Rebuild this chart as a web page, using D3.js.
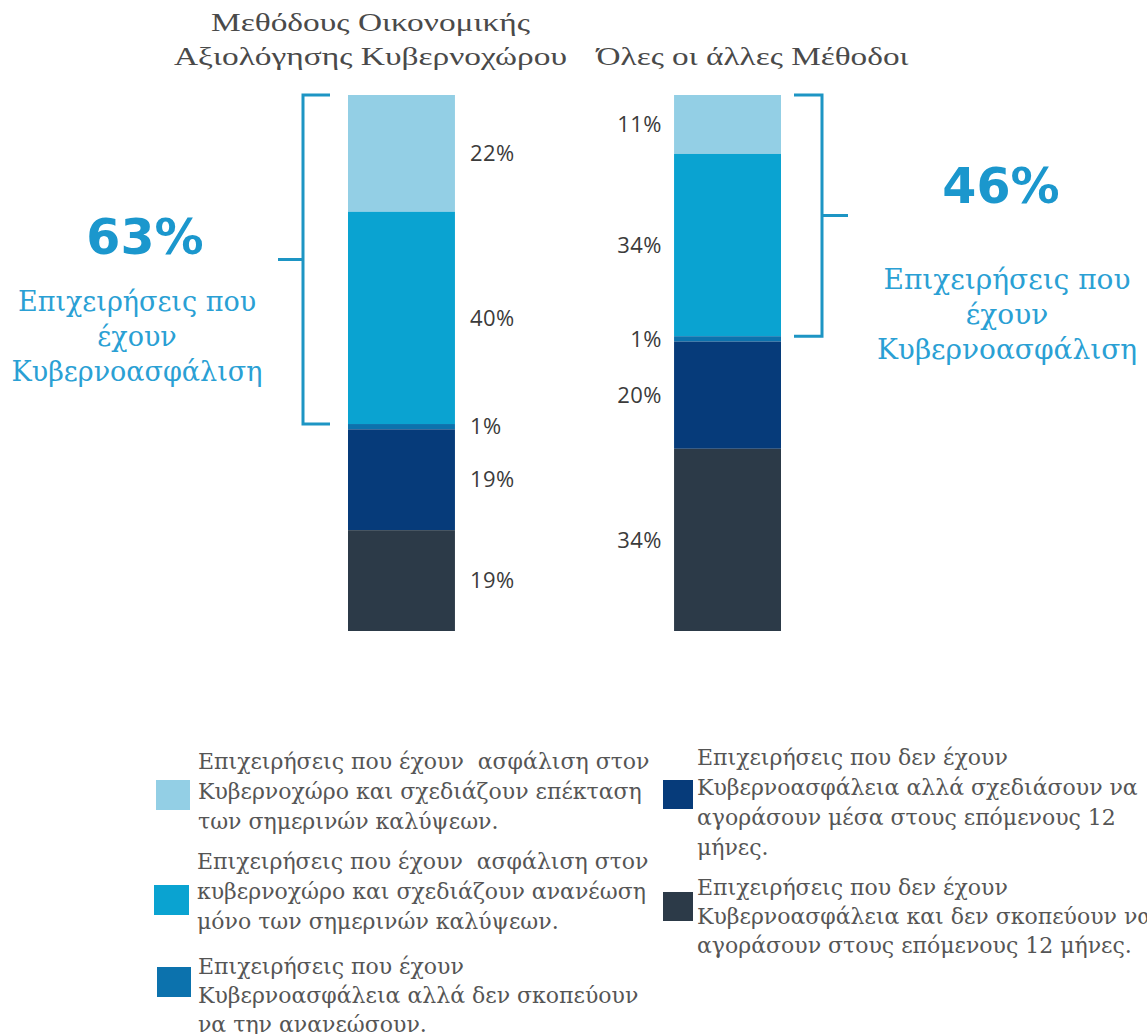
<!DOCTYPE html>
<html>
<head>
<meta charset="utf-8">
<script src="https://cdn.jsdelivr.net/npm/d3@7"></script>
<style>
  body { margin: 0; background: #fff; }
  svg { display: block; }
</style>
</head>
<body>
<svg id="chart" width="1147" height="1034"></svg>
<script>
// Groups (one stacked bar each) and their column headings
const groups = ["cyber", "other"];
const groupTitles = [
  ["Μεθόδους Οικονομικής", "Αξιολόγησης Κυβερνοχώρου"],
  ["Όλες οι άλλες Μέθοδοι"]
];

// Series, stacked top to bottom
const seriesKeys = ["expand", "renew", "noRenew", "planBuy", "noPlan"];
const expandValues  = [22, 11];
const renewValues   = [40, 34];
const noRenewValues = [1, 1];
const planBuyValues = [19, 20];
const noPlanValues  = [19, 34];

// Share of businesses that hold cyber insurance (bracketed part)
const insuredTotals = [63, 46];
const insuredCaption = ["Επιχειρήσεις που", "έχουν", "Κυβερνοασφάλιση"];

const seriesColors = ["#93cfe5", "#0aa3d1", "#0c72ad", "#063b7a", "#2c3a48"];

const legendLabels = [
  ["Επιχειρήσεις που έχουν  ασφάλιση στον", "Κυβερνοχώρο και σχεδιάζουν επέκταση", "των σημερινών καλύψεων."],
  ["Επιχειρήσεις που έχουν  ασφάλιση στον", "κυβερνοχώρο και σχεδιάζουν ανανέωση", "μόνο των σημερινών καλύψεων."],
  ["Επιχειρήσεις που έχουν", "Κυβερνοασφάλεια αλλά δεν σκοπεύουν", "να την ανανεώσουν."],
  ["Επιχειρήσεις που δεν έχουν", "Κυβερνοασφάλεια αλλά σχεδιάσουν να", "αγοράσουν μέσα στους επόμενους 12", "μήνες."],
  ["Επιχειρήσεις που δεν έχουν", "Κυβερνοασφάλεια και δεν σκοπεύουν να", "αγοράσουν στους επόμενους 12 μήνες."]
];

// ---- build table ----
const seriesValues = [expandValues, renewValues, noRenewValues, planBuyValues, noPlanValues];
const rows = groups.map((g, i) => {
  const r = { group: g };
  seriesKeys.forEach((k, s) => { r[k] = seriesValues[s][i]; });
  return r;
});

const svg = d3.select("#chart");

const x = d3.scaleBand().domain(groups).range([348, 781]).paddingInner(0.672).paddingOuter(0);
const y = d3.scaleLinear().domain([0, 1]).range([95, 631]);
const color = d3.scaleOrdinal().domain(seriesKeys).range(seriesColors);

const stacked = d3.stack().keys(seriesKeys).offset(d3.stackOffsetExpand)(rows);

// ---- headings ----
const titleFont = "'Liberation Serif', 'Times New Roman', serif";
const titleSpecs = [
  { dx: -31, widths: [319, 393] },
  { dx: 25, widths: [312] }
];
groups.forEach((g, i) => {
  const lines = groupTitles[i];
  const cx = x(g) + x.bandwidth() / 2 + titleSpecs[i].dx;
  lines.forEach((line, j) => {
    const base = lines.length === 2 ? 31 + j * 34 : 65;
    svg.append("text")
      .attr("x", cx)
      .attr("y", base)
      .attr("text-anchor", "middle")
      .attr("font-family", titleFont)
      .attr("font-size", 25)
      .attr("fill", "#4a4a4a")
      .attr("textLength", titleSpecs[i].widths[j])
      .attr("lengthAdjust", "spacingAndGlyphs")
      .text(line);
  });
});

// ---- stacked bars ----
svg.append("g")
  .selectAll("g")
  .data(stacked)
  .join("g")
  .attr("fill", d => color(d.key))
  .selectAll("rect")
  .data(d => d)
  .join("rect")
  .attr("x", d => x(d.data.group))
  .attr("y", d => y(d[0]))
  .attr("width", x.bandwidth())
  .attr("height", d => y(d[1]) - y(d[0]));

// ---- segment value labels ----
const labelFont = "'Open Sans', 'Noto Sans', sans-serif";
stacked.forEach(series => {
  series.forEach((d, i) => {
    const leftSide = i === 1;
    svg.append("text")
      .attr("x", leftSide ? x(d.data.group) - 12 : x(d.data.group) + x.bandwidth() + 15)
      .attr("y", (y(d[0]) + y(d[1])) / 2)
      .attr("dy", "0.35em")
      .attr("text-anchor", leftSide ? "end" : "start")
      .attr("font-family", labelFont)
      .attr("font-size", 22)
      .attr("letter-spacing", 0.5)
      .attr("fill", "#3b3b3b")
      .text(d.data[series.key] + "%");
  });
});

// ---- brackets around the insured share ----
const bracketColor = "#1d95c4";
groups.forEach((g, i) => {
  const top = y(stacked[0][i][0]);
  const bottom = y(stacked[1][i][1]);
  const mid = (top + bottom) / 2;
  const onLeft = i === 0;
  const barEdge = onLeft ? x(g) : x(g) + x.bandwidth();
  const spine = onLeft ? barEdge - 45 : barEdge + 41;
  const armEnd = onLeft ? barEdge - 18 : barEdge + 13;
  const nub = onLeft ? spine - 25 : spine + 26;
  const path = d3.path();
  path.moveTo(armEnd, top); path.lineTo(spine, top);
  path.lineTo(spine, bottom); path.lineTo(armEnd, bottom);
  path.moveTo(spine, mid); path.lineTo(nub, mid);
  svg.append("path")
    .attr("d", path.toString())
    .attr("fill", "none")
    .attr("stroke", bracketColor)
    .attr("stroke-width", 3);
});

// ---- insured totals and caption ----
const calloutPos = [
  { numX: 145, numY: 254, capX: 137, capY: 311, capSize: 27 },
  { numX: 1001, numY: 203, capX: 1007, capY: 289, capSize: 28 }
];
insuredTotals.forEach((v, i) => {
  const p = calloutPos[i];
  svg.append("text")
    .attr("x", p.numX).attr("y", p.numY)
    .attr("text-anchor", "middle")
    .attr("font-family", "'DejaVu Sans', sans-serif")
    .attr("font-weight", "bold")
    .attr("font-size", 49)
    .attr("fill", "#1b97cd")
    .text(v + "%");
  insuredCaption.forEach((line, j) => {
    svg.append("text")
      .attr("x", p.capX).attr("y", p.capY + j * 35)
      .attr("text-anchor", "middle")
      .attr("font-family", "'DejaVu Serif', serif")
      .attr("font-size", p.capSize)
      .attr("fill", "#2aa0d4")
      .text(line);
  });
});

// ---- legend ----
const legendLayout = [
  { sx: 156, sy: 780, sw: 34, sh: 30, tx: 198, ty: 769, lh: 30 },
  { sx: 154, sy: 885, sw: 35, sh: 30, tx: 197, ty: 869, lh: 30 },
  { sx: 157, sy: 967, sw: 34, sh: 30, tx: 198, ty: 974, lh: 29 },
  { sx: 663, sy: 780, sw: 30, sh: 29, tx: 697, ty: 765, lh: 30 },
  { sx: 663, sy: 892, sw: 30, sh: 29, tx: 697, ty: 895, lh: 29 }
];
const legend = svg.append("g");
seriesKeys.forEach((k, i) => {
  const L = legendLayout[i];
  legend.append("rect")
    .attr("x", L.sx).attr("y", L.sy)
    .attr("width", L.sw).attr("height", L.sh)
    .attr("fill", color(k));
  legendLabels[i].forEach((line, j) => {
    legend.append("text")
      .attr("x", L.tx).attr("y", L.ty + j * L.lh)
      .attr("font-family", "'DejaVu Serif', serif")
      .attr("font-size", 22)
      .attr("fill", "#555")
      .style("white-space", "pre")
      .text(line);
  });
});
</script>
</body>
</html>
